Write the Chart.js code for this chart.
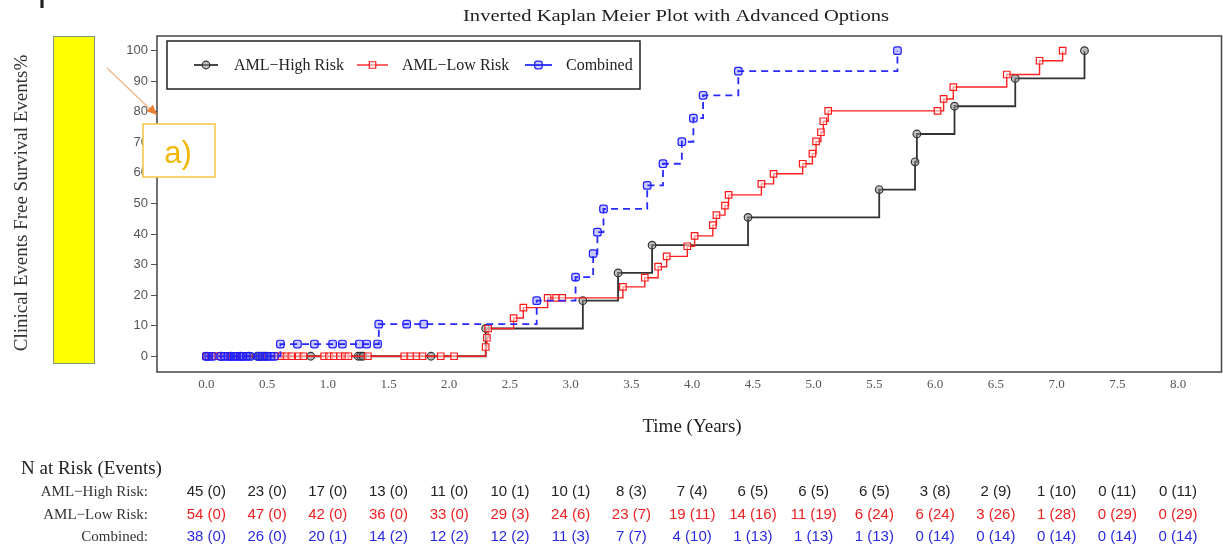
<!DOCTYPE html>
<html><head><meta charset="utf-8">
<script src="https://cdn.jsdelivr.net/npm/chart.js@4.4.1/dist/chart.umd.min.js"></script>
<style>html,body{margin:0;padding:0;background:#fff;overflow:hidden}#wrap{position:relative;width:1223px;height:548px}</style>
</head><body><div id="wrap"><canvas id="c" width="1223" height="548"></canvas></div>
<script>
// ---------- DATA ----------
const seriesNames = ['AML\u2212High Risk', 'AML\u2212Low Risk', 'Combined'];

const highTimes  = [0, 0.12, 0.2, 0.28, 0.35, 0.42, 0.44, 0.46, 0.48, 0.5, 0.86, 1.25, 1.27, 1.29, 1.85,
                    2.30, 3.10, 3.39, 3.67, 4.46, 5.54, 5.835, 5.85, 6.16, 6.66, 7.23];
const highValues = [0, 0, 0, 0, 0, 0, 0, 0, 0, 0, 0, 0, 0, 0, 0,
                    9.09, 18.18, 27.27, 36.36, 45.45, 54.55, 63.64, 72.73, 81.82, 90.91, 100];

const lowTimes  = [0, 0.04, 0.07, 0.1, 0.15, 0.22, 0.3, 0.59, 0.62, 0.66, 0.7, 0.76, 0.8, 0.97, 1.01, 1.05, 1.1, 1.14, 1.17,
                   1.33, 1.63, 1.68, 1.73, 1.78, 1.93, 2.04,
                   2.30, 2.31, 2.32, 2.53, 2.61, 2.81, 2.88, 2.93,
                   3.43, 3.61, 3.72, 3.79, 3.96, 4.02, 4.17, 4.20, 4.27, 4.30, 4.57, 4.67, 4.91, 4.99,
                   5.02, 5.06, 5.08, 5.12, 6.02, 6.07, 6.15, 6.59, 6.86, 7.05];
const lowValues = [0, 0, 0, 0, 0, 0, 0, 0, 0, 0, 0, 0, 0, 0, 0, 0, 0, 0, 0,
                   0, 0, 0, 0, 0, 0, 0,
                   3.03, 6.06, 9.09, 12.5, 15.9, 19.1, 19.1, 19.1,
                   22.7, 25.7, 29.3, 32.7, 36.0, 39.4, 42.9, 46.2, 49.3, 52.8, 56.4, 59.7, 63.0, 66.3,
                   70.3, 73.3, 76.9, 80.3, 80.3, 84.2, 88.1, 92.2, 96.7, 100];

const combTimes  = [0, 0.02, 0.05, 0.12, 0.15, 0.18, 0.2, 0.23, 0.25, 0.28, 0.3, 0.33, 0.36, 0.43, 0.46, 0.5, 0.53, 0.56,
                    0.61, 0.75, 0.89, 1.04, 1.12, 1.26, 1.32, 1.41, 1.42, 1.65, 1.79,
                    2.72, 3.04, 3.185, 3.22, 3.27, 3.63, 3.76, 3.915, 4.01, 4.09, 4.38, 5.69];
const combValues = [0, 0, 0, 0, 0, 0, 0, 0, 0, 0, 0, 0, 0, 0, 0, 0, 0, 0,
                    4.0, 4.0, 4.0, 4.0, 4.0, 4.0, 4.0, 4.0, 10.5, 10.5, 10.5,
                    18.2, 25.9, 33.6, 40.6, 48.2, 55.9, 63.0, 70.2, 77.9, 85.4, 93.3, 100];

const riskTimes   = [0, 0.5, 1, 1.5, 2, 2.5, 3, 3.5, 4, 4.5, 5, 5.5, 6, 6.5, 7, 7.5, 8];
const xTickLabels = ['0.0','0.5','1.0','1.5','2.0','2.5','3.0','3.5','4.0','4.5','5.0','5.5','6.0','6.5','7.0','7.5','8.0'];
const yTickValues = [0, 10, 20, 30, 40, 50, 60, 70, 80, 90, 100];

const riskHigh = ['45 (0)','23 (0)','17 (0)','13 (0)','11 (0)','10 (1)','10 (1)','8 (3)','7 (4)','6 (5)','6 (5)','6 (5)','3 (8)','2 (9)','1 (10)','0 (11)','0 (11)'];
const riskLow  = ['54 (0)','47 (0)','42 (0)','36 (0)','33 (0)','29 (3)','24 (6)','23 (7)','19 (11)','14 (16)','11 (19)','6 (24)','6 (24)','3 (26)','1 (28)','0 (29)','0 (29)'];
const riskComb = ['38 (0)','26 (0)','20 (1)','14 (2)','12 (2)','12 (2)','11 (3)','7 (7)','4 (10)','1 (13)','1 (13)','1 (13)','0 (14)','0 (14)','0 (14)','0 (14)','0 (14)'];

const titleText  = 'Inverted Kaplan Meier Plot with Advanced Options';
const yTitleText = 'Clinical Events Free Survival Events%';
const xTitleText = 'Time (Years)';
const riskTitle  = 'N at Risk (Events)';
const riskLabels = ['AML\u2212High Risk:', 'AML\u2212Low Risk:', 'Combined:'];
const annotText  = 'a)';

// ---------- STYLES ----------
const SERIF = '"Liberation Serif", "Times New Roman", serif';
const SANS  = '"Liberation Sans", Arial, sans-serif';
const styles = [
  {line:'#333333', pointStyle:'circle', radius:3.8, pbg:'rgba(140,140,140,0.55)', pborder:'#333333', width:1.8, dash:[], text:'#222222'},
  {line:'#ff2020', pointStyle:'rect', radius:4.6, pbg:'rgba(255,255,255,0.5)', pborder:'#ff1a1a', width:1.4, dash:[], text:'#ee2020'},
  {line:'#2a2aff', pointStyle:'rectRounded', radius:4.4, pbg:'rgba(40,40,255,0.25)', pborder:'#1f1fff', width:1.8, dash:[7,5], text:'#2a2ae0'}
];

function pts(ts, vs){ return ts.map((t,i)=>({x:t, y:vs[i]})); }
function ds(i, data, order){
  const s = styles[i];
  return {label:seriesNames[i], data, stepped:true, borderColor:s.line, borderWidth:s.width, borderDash:s.dash,
    pointStyle:s.pointStyle, pointRadius:s.radius, pointBorderColor:s.pborder, pointBackgroundColor:s.pbg,
    pointBorderWidth:1.2, fill:false, order, clip:false};
}

function fitText(ctx, text, x, y, width){
  const w = ctx.measureText(text).width;
  ctx.save(); ctx.translate(x, y); ctx.scale(width / w, 1);
  ctx.fillText(text, 0, 0); ctx.restore();
}

const decor = {
  id:'decor',
  afterDatasetsDraw(chart){
    const {ctx, chartArea:a} = chart;
    ctx.save();
    ctx.strokeStyle = '#444'; ctx.lineWidth = 1.5;
    ctx.strokeRect(a.left, a.top, a.right - a.left, a.bottom - a.top);
    ctx.restore();
  },
  afterDraw(chart){
    const {ctx} = chart;
    const xs = chart.scales.x;
    ctx.save();
    // cropped letter at top-left
    ctx.fillStyle = '#222'; ctx.font = '36px ' + SANS; ctx.textBaseline = 'alphabetic'; ctx.textAlign = 'left';
    ctx.fillText('p', 38, 0);
    // title
    ctx.fillStyle = '#222'; ctx.font = '17px ' + SERIF; ctx.textAlign = 'center'; ctx.textBaseline = 'middle';
    fitText(ctx, titleText, 676, 17, 426);
    // x title
    ctx.font = '19px ' + SERIF;
    ctx.fillText(xTitleText, 692, 427);
    // yellow box
    ctx.fillStyle = '#ffff00'; ctx.fillRect(53, 36, 42, 328);
    ctx.strokeStyle = '#7a9a7a'; ctx.lineWidth = 1; ctx.strokeRect(53.5, 36.5, 41, 327);
    // y title
    ctx.save();
    ctx.translate(22, 203); ctx.rotate(-Math.PI/2);
    ctx.fillStyle = '#333'; ctx.font = '19px ' + SERIF; ctx.textAlign = 'center'; ctx.textBaseline = 'middle';
    ctx.fillText(yTitleText, 0, 0);
    ctx.restore();
    // legend
    ctx.fillStyle = '#fff'; ctx.fillRect(167, 41, 473, 48);
    ctx.strokeStyle = '#222'; ctx.lineWidth = 1.5; ctx.strokeRect(167, 41, 473, 48);
    const lx = [[194, 218, 234], [357, 388, 402], [525, 552, 566]];
    const ly = 65;
    ctx.font = '16px ' + SERIF; ctx.textAlign = 'left'; ctx.textBaseline = 'middle';
    for (let i = 0; i < 3; i++){
      const s = styles[i];
      ctx.strokeStyle = s.line; ctx.lineWidth = s.width; ctx.setLineDash([]);
      ctx.beginPath(); ctx.moveTo(lx[i][0], ly); ctx.lineTo(lx[i][1], ly); ctx.stroke();
      ctx.fillStyle = s.pbg; ctx.strokeStyle = s.pborder; ctx.lineWidth = 1.2;
      Chart.helpers.drawPoint(ctx, {pointStyle:s.pointStyle, radius:s.radius, rotation:0, borderWidth:1.2}, (lx[i][0]+lx[i][1])/2, ly);
      ctx.fillStyle = '#222';
      ctx.fillText(seriesNames[i], lx[i][2], ly + 1);
    }
    // risk table
    ctx.fillStyle = '#222'; ctx.font = '19px ' + SERIF; ctx.textAlign = 'left';
    ctx.fillText(riskTitle, 21, 469);
    const rowsY = [492, 515, 537];
    const rows = [riskHigh, riskLow, riskComb];
    for (let r = 0; r < 3; r++){
      ctx.fillStyle = '#333'; ctx.font = '15px ' + SERIF; ctx.textAlign = 'right';
      ctx.fillText(riskLabels[r], 148, rowsY[r]);
      ctx.fillStyle = styles[r].text; ctx.font = '15px ' + SANS; ctx.textAlign = 'center';
      for (let i = 0; i < riskTimes.length; i++){
        ctx.fillText(rows[r][i], xs.getPixelForValue(riskTimes[i]), rowsY[r]);
      }
    }
    // annotation arrow
    ctx.strokeStyle = '#f4b183'; ctx.lineWidth = 1.2;
    ctx.beginPath(); ctx.moveTo(107, 68); ctx.lineTo(151, 110); ctx.stroke();
    const tipX = 157, tipY = 115, ang = Math.atan2(44, 45);
    ctx.fillStyle = '#ed7d31';
    ctx.beginPath();
    ctx.moveTo(tipX, tipY);
    ctx.lineTo(tipX - 10*Math.cos(ang) + 4.5*Math.sin(ang), tipY - 10*Math.sin(ang) - 4.5*Math.cos(ang));
    ctx.lineTo(tipX - 10*Math.cos(ang) - 4.5*Math.sin(ang), tipY - 10*Math.sin(ang) + 4.5*Math.cos(ang));
    ctx.closePath(); ctx.fill();
    // annotation box
    ctx.fillStyle = '#fff'; ctx.fillRect(143, 124, 72, 53);
    ctx.strokeStyle = '#f5c542'; ctx.lineWidth = 1.5; ctx.strokeRect(143, 124, 72, 53);
    ctx.fillStyle = '#f2b705'; ctx.font = '31px ' + SANS; ctx.textAlign = 'center'; ctx.textBaseline = 'alphabetic';
    ctx.fillText(annotText, 178, 163);
    ctx.restore();
  }
};

const chart = new Chart(document.getElementById('c').getContext('2d'), {
  type:'line',
  data:{datasets:[
    ds(0, pts(highTimes, highValues), 2),
    ds(1, pts(lowTimes, lowValues), 1),
    ds(2, pts(combTimes, combValues), 0)
  ]},
  options:{
    responsive:false, animation:false, devicePixelRatio:1,
    layout:{autoPadding:false, padding:{left:0, top:36, right:1.5, bottom:0}},
    plugins:{legend:{display:false}, tooltip:{enabled:false}, title:{display:false}},
    scales:{
      x:{type:'linear', min:-0.406, max:8.358,
         afterBuildTicks:s=>{ s.ticks = riskTimes.map(v=>({value:v})); },
         ticks:{callback:(v,i)=>xTickLabels[i], font:{family:SERIF, size:13}, color:'#555', padding:5, maxRotation:0, autoSkip:false},
         grid:{display:false, drawTicks:false}, border:{display:false},
         afterFit:s=>{ s.height = 176; s.paddingLeft = 0; s.paddingRight = 0; }},
      y:{type:'linear', min:-5.15, max:104.8,
         afterBuildTicks:s=>{ s.ticks = yTickValues.map(v=>({value:v})); },
         ticks:{font:{family:SANS, size:13}, color:'#555', padding:3, autoSkip:false},
         grid:{drawOnChartArea:false, drawTicks:true, tickLength:6, color:'#555'}, border:{display:false},
         afterFit:s=>{ s.width = 157; s.paddingTop = 0; s.paddingBottom = 0; }}
    }
  },
  plugins:[decor]
});
</script></body></html>
